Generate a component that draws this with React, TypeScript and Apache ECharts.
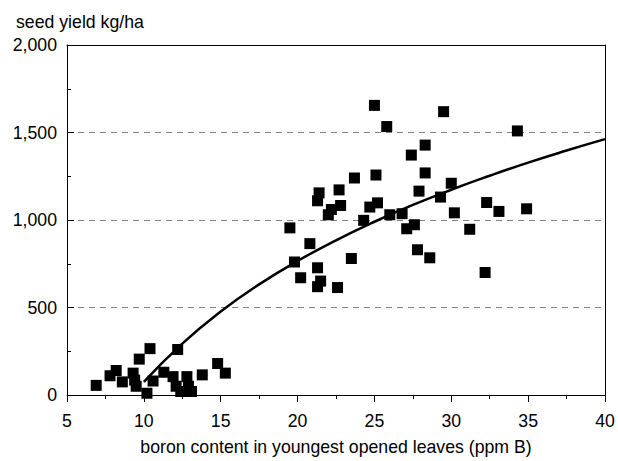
import React, { useEffect, useRef } from "react";
import * as echarts from "echarts";

const pointX = [
  6.9, 7.8, 8.2, 8.6, 9.3, 9.4, 9.5, 9.7, 10.4, 10.2, 10.6, 11.3, 11.9, 12.2, 12.1, 12.4, 12.8, 12.9, 13.1, 13.8, 14.8, 15.3,
  19.5, 19.8, 20.2, 20.8, 21.3, 21.4, 21.3, 21.5, 21.3, 22.0, 22.2, 22.6, 22.7, 22.8, 23.5, 23.7, 24.3, 24.7, 25.0, 25.1,
  25.2, 25.8, 26.0, 26.8, 27.1, 27.4, 27.6, 27.8, 27.9, 28.3, 28.3, 28.6, 29.3, 29.5, 30.0, 30.2, 31.2, 32.2, 32.3, 33.1,
  34.3, 34.9,
];
const pointY = [
  55, 110, 140, 75, 125, 85, 50, 205, 265, 10, 80, 130, 105, 260, 50, 20, 105, 50, 20, 115, 180, 125,
  955, 760, 670, 865, 1110, 1155, 727, 651, 619, 1030, 1060, 614, 1172, 1083, 780, 1240, 998, 1074, 1655, 1257,
  1098, 1534, 1030, 1036, 950, 1371, 973, 830, 1165, 1428, 1269, 784, 1131, 1619, 1210, 1041, 947, 700, 1100, 1049,
  1509, 1064,
];
const curveX = [10, 12.5, 15, 17.5, 20, 22.5, 25, 27.5, 30, 32.5, 35, 37.5, 40];
const curveY = [75, 294, 477, 632, 766, 884, 990, 1086, 1173, 1253, 1328, 1397, 1462];

const FONT = '"Liberation Sans", Arial, sans-serif';
const FS = 17.7;

export default function App() {
  const ref = useRef<HTMLDivElement>(null);
  useEffect(() => {
    if (!ref.current) return;
    const chart = echarts.init(ref.current, undefined, { renderer: "svg" });
    const pts = pointX.map((x, i) => [x, pointY[i]]);
    const curve = curveX.map((x, i) => [x, curveY[i]]);
    chart.setOption({
      animation: false,
      backgroundColor: "#fff",
      textStyle: { fontFamily: FONT },
      title: {
        text: "seed yield kg/ha",
        left: 11,
        top: 8,
        textStyle: { fontFamily: FONT, fontSize: FS, fontWeight: "normal", color: "#000" },
      },
      grid: { left: 67, right: 13, top: 45, bottom: 64, containLabel: false },
      xAxis: [
        {
          type: "value",
          min: 5,
          max: 40,
          interval: 5,
          name: "boron content in youngest opened leaves (ppm B)",
          nameLocation: "middle",
          nameGap: 43,
          nameTextStyle: { fontFamily: FONT, fontSize: FS, color: "#000" },
          axisLine: { show: true, lineStyle: { color: "#000", width: 1 } },
          axisTick: { show: true, inside: false, length: 7, lineStyle: { color: "#000" } },
          minorTick: { show: true, splitNumber: 2, length: 4, lineStyle: { color: "#000" } },
          axisLabel: { fontFamily: FONT, fontSize: FS, color: "#000", margin: 17 },
          splitLine: { show: false },
        },
        {
          type: "value",
          position: "top",
          min: 5,
          max: 40,
          axisLine: { show: true, onZero: false, lineStyle: { color: "#000", width: 1 } },
          axisTick: { show: false },
          axisLabel: { show: false },
          splitLine: { show: false },
        },
      ],
      yAxis: [
        {
          type: "value",
          min: 0,
          max: 2000,
          interval: 500,
          axisLine: { show: true, lineStyle: { color: "#000", width: 1 } },
          axisTick: { show: true, inside: true, length: 7, lineStyle: { color: "#000" } },
          minorTick: { show: true, splitNumber: 2, length: 4, lineStyle: { color: "#000" } },
          axisLabel: {
            fontFamily: FONT,
            fontSize: FS,
            color: "#000",
            margin: 10,
            formatter: (v: number) => v.toLocaleString("en-US"),
          },
          splitLine: { show: true, lineStyle: { color: "#808080", type: [6, 5], width: 1 } },
        },
        {
          type: "value",
          position: "right",
          min: 0,
          max: 2000,
          axisLine: { show: true, onZero: false, lineStyle: { color: "#000", width: 1 } },
          axisTick: { show: false },
          axisLabel: { show: false },
          splitLine: { show: false },
        },
      ],
      series: [
        {
          type: "scatter",
          data: pts,
          symbol: "rect",
          symbolSize: 11,
          itemStyle: { color: "#000", opacity: 1 },
          xAxisIndex: 0,
          yAxisIndex: 0,
        },
        {
          type: "line",
          data: curve,
          smooth: true,
          showSymbol: false,
          symbol: "none",
          lineStyle: { color: "#000", width: 2.5 },
          xAxisIndex: 0,
          yAxisIndex: 0,
          z: 3,
        },
      ],
    });
    return () => chart.dispose();
  }, []);
  return (
    <div
      ref={ref}
      style={{ position: "fixed", left: 0, top: 0, width: 618, height: 461, background: "#fff" }}
    />
  );
}
